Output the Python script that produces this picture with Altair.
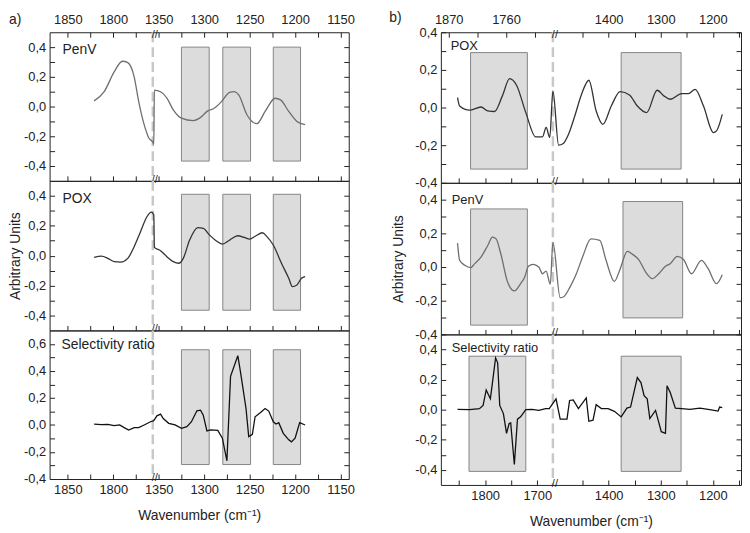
import altair as alt
import pandas as pd

FONT = "Liberation Sans"

# ---------------- panel a) data (wavenumber, value) ----------------
a_penv_wn = [1821, 1810, 1799, 1790, 1784, 1777, 1772, 1766, 1761, 1756, 1755.4,
             1354.8, 1348, 1341, 1334, 1325, 1312, 1305, 1296, 1289, 1281, 1272, 1267,
             1262, 1253, 1242, 1233, 1222, 1216, 1207, 1198, 1189]
a_penv_val = [0.038, 0.10, 0.233, 0.305, 0.296, 0.20, 0.033, -0.122, -0.21, -0.245, -0.255,
              0.111, 0.10, 0.056, -0.022, -0.078, -0.095, -0.078, -0.029, -0.011, 0.033, 0.096, 0.10,
              0.078, -0.055, -0.115, -0.033, 0.056, 0.045, -0.033, -0.10, -0.122]

a_pox_wn = [1821, 1813, 1806, 1799, 1792, 1784, 1777, 1770, 1763, 1758, 1755.4,
            1354.8, 1348, 1341, 1334, 1328, 1323, 1316, 1307, 1301, 1294, 1287, 1280, 1272,
            1263, 1256, 1250, 1243.5, 1236, 1231, 1224, 1215, 1207, 1203, 1198, 1193, 1189]
a_pox_val = [-0.011, -0.003, -0.018, -0.04, -0.043, -0.018, 0.06, 0.16, 0.26, 0.291, 0.271,
             0.055, 0.033, -0.007, -0.04, -0.051, -0.018, 0.104, 0.187, 0.182, 0.137, 0.10, 0.077, 0.104,
             0.133, 0.122, 0.111, 0.131, 0.153, 0.127, 0.071, -0.051, -0.151, -0.207, -0.196, -0.151, -0.14]

a_sr_wn = [1821, 1813, 1806, 1799, 1793, 1788, 1783, 1777, 1772, 1766, 1759, 1756,
           1355, 1352, 1348, 1345, 1339, 1332, 1325, 1319, 1314, 1308, 1304, 1301, 1297, 1293,
           1285, 1280, 1275, 1271, 1263, 1260, 1254, 1251, 1247, 1244, 1238, 1233, 1229, 1224,
           1221, 1218, 1213, 1207, 1204, 1200, 1195, 1189]
a_sr_val = [0.007, 0.002, 0.004, -0.005, 0.0, -0.02, -0.037, -0.02, -0.02, 0.0, 0.024, 0.03,
            0.037, 0.068, 0.08, 0.048, 0.012, 0.0, -0.025, -0.012, 0.024, 0.105, 0.11, 0.073, -0.044, -0.037,
            -0.04, -0.098, -0.265, 0.36, 0.513, 0.39, 0.122, -0.086, -0.069, 0.061, 0.092, 0.122, 0.103, 0.024,
            0.007, 0.017, -0.062, -0.11, -0.125, -0.098, 0.017, 0.0]

# gray boxes of panel a) (wavenumber start/end, value bottom/top per panel)
a_box_start = [1325, 1279.5, 1224]
a_box_end = [1294.5, 1249, 1194]
a1_box_y = [-0.367, 0.40]
a2_box_y = [-0.365, 0.41]
a3_box_y = [-0.293, 0.557]

# ---------------- panel b) data ----------------
b_pox_wn = [1853, 1849, 1830, 1808, 1795, 1782, 1767, 1753, 1740, 1722, 1703, 1690, 1683, 1676, 1670,
            1496, 1487, 1477, 1465, 1452, 1438, 1424, 1411, 1395, 1378, 1360, 1345, 1327, 1307,
            1294, 1282, 1260, 1247, 1234, 1218, 1199, 1193, 1182]
b_pox_val = [0.053, 0.008, -0.014, 0.003, -0.018, -0.021, 0.062, 0.154, 0.12, -0.027, -0.156, -0.156, -0.106, -0.159, 0.088,
             -0.2, -0.191, -0.142, -0.045, 0.071, 0.145, -0.018, -0.089, 0.008, 0.085, 0.067, 0.008, -0.027, 0.092,
             0.062, 0.044, 0.074, 0.074, 0.097, 0.008, -0.133, -0.124, -0.036]

b_penv_wn = [1853, 1849, 1839, 1828, 1820, 1808, 1795, 1786, 1779, 1770, 1757, 1744, 1732, 1724, 1717,
             1708, 1697, 1690, 1683, 1675, 1670,
             1493, 1487, 1474, 1462, 1449, 1434, 1417, 1405, 1389, 1379, 1364, 1354, 1342, 1329,
             1316, 1304, 1291, 1282, 1268, 1256, 1241, 1222, 1209, 1193, 1182]
b_penv_val = [0.142, 0.04, 0.01, -0.004, 0.02, 0.059, 0.128, 0.178, 0.167, 0.079, -0.089, -0.142, -0.099, -0.059, 0.004,
              0.016, 0.0, -0.04, -0.024, -0.102, 0.148,
              -0.182, -0.178, -0.118, -0.04, 0.069, 0.167, 0.158, 0.04, -0.085, -0.02, 0.093, 0.075, 0.043, -0.03,
              -0.069, -0.04, 0.004, 0.02, 0.063, 0.043, -0.04, 0.04, -0.01, -0.099, -0.046]

b_sr_wn = [1853, 1830, 1811, 1804, 1798, 1790, 1786, 1780, 1776, 1772, 1765, 1759, 1754, 1751, 1744,
           1738, 1732, 1722, 1710, 1697, 1684, 1677,
           1501, 1493, 1480, 1475, 1468, 1458, 1443, 1438, 1430, 1424, 1414, 1401, 1389, 1376,
           1365, 1358, 1345, 1338, 1332, 1326, 1321, 1310, 1299, 1291, 1288, 1282, 1272, 1260,
           1244, 1225, 1206, 1190, 1187, 1182]
b_sr_val = [0.002, 0.0, 0.007, 0.028, 0.131, 0.072, 0.18, 0.344, 0.311, 0.028, -0.026, -0.157, -0.092, -0.088, -0.364,
            -0.063, -0.048, 0.0, 0.002, -0.005, 0.007, 0.007,
            0.072, -0.063, -0.063, 0.061, 0.065, 0.007, 0.078, -0.077, -0.07, 0.033, 0.007, 0.007, -0.011, -0.048,
            0.01, 0.017, 0.213, 0.18, 0.093, 0.072, -0.059, -0.005, -0.146, -0.157, 0.159, 0.115, 0.01, 0.007,
            0.002, 0.01, 0.0, -0.009, 0.017, 0.013]

b1_box_start = [1828, 1376]
b1_box_end = [1719, 1261]
b1_box_bot = [-0.327, -0.327]
b1_box_top = [0.292, 0.292]
b2_box_start = [1828, 1372.5]
b2_box_end = [1719, 1258]
b2_box_bot = [-0.345, -0.302]
b2_box_top = [0.345, 0.389]
b3_box_start = [1831, 1376]
b3_box_end = [1722, 1261]
b3_box_bot = [-0.41, -0.41]
b3_box_top = [0.355, 0.355]

# ---------------- axes: ticks and labels (wavenumbers) ----------------
a_ticks_wn = [1850, 1825, 1800, 1775, 1350, 1325, 1300, 1275, 1250, 1225, 1200, 1175, 1150]
a_labels_wn = [1850, 1800, 1350, 1300, 1250, 1200, 1150]
b_bottom_ticks_wn = [1850, 1800, 1750, 1700, 1450, 1400, 1350, 1300, 1250, 1200, 1150]
b_bottom_labels_wn = [1800, 1700, 1400, 1300, 1200]
b_top_ticks_wn = [1870, 1815, 1760, 1705, 1450, 1400, 1350, 1300, 1250, 1200, 1150]
b_top_labels_wn = [1870, 1760, 1400, 1300, 1200]

y_ticks_a12 = [-0.4, -0.3, -0.2, -0.1, 0.0, 0.1, 0.2, 0.3, 0.4]
y_ticks_a3 = [-0.4, -0.3, -0.2, -0.1, 0.0, 0.1, 0.2, 0.3, 0.4, 0.5, 0.6]
y_ticks_b = [-0.4, -0.3, -0.2, -0.1, 0.0, 0.1, 0.2, 0.3, 0.4]

# broken axis: left segment is shifted onto the continuous position scale
A_SHIFT, A_CUT, A_BREAK = 400, 1500, 1356.5
B_SHIFT, B_CUT, B_BREAK = 163, 1600, 1507


def to_pos(wn, shift, cut):
    return [w - shift if w > cut else w for w in wn]


def line_df(wn, val, shift, cut):
    return pd.DataFrame({"pos": to_pos(wn, shift, cut), "val": val, "idx": list(range(len(wn)))})


def box_df(start, end, bot, top, shift, cut):
    return pd.DataFrame({"x1": to_pos(start, shift, cut), "x2": to_pos(end, shift, cut),
                         "y1": bot, "y2": top})


def label_expr(labels_wn, shift, cut):
    parts = []
    for w in labels_wn:
        p = w - shift if w > cut else w
        parts.append(f"datum.value == {p} ? '{w}'")
    return " : ".join(parts) + " : ''"


Y_EXPR = ("abs(round(datum.value * 10)) % 2 == 0 ? "
          "((datum.value < -0.001 ? '-' : '') + replace(format(abs(datum.value), '.1f'), '.', ',')) : ''")

TXT = dict(labelFont=FONT, labelFontSize=13, labelColor="#222", titleFont=FONT, titleFontSize=14,
           titleFontWeight="normal", titleColor="#222")
TICK = dict(domain=False, grid=False, tickSize=5, offset=-5, tickColor="#222", tickWidth=1, **TXT)


def panel(df, boxes, ydom, yticks, h, w, xdom, bvals, bexpr, bottom_labels, tvals, texpr,
          name, name_xy, name_size, color, interp, brk, ytitle, xtitle, ytp, corner=None):
    xs = alt.Scale(domain=xdom, reverse=True, nice=False, zero=False)
    ys = alt.Scale(domain=ydom, nice=False, zero=False)

    bottom_axis = alt.Axis(orient="bottom", values=bvals, labelExpr=bexpr, labels=bottom_labels,
                           labelPadding=5, labelFlush=False, labelOverlap=False,
                           titlePadding=12, **TICK)
    left_axis = alt.Axis(orient="left", values=yticks, labelExpr=Y_EXPR, labelPadding=4,
                         labelFlush=False, labelOverlap=False, titlePadding=ytp, **TICK)
    right_axis = alt.Axis(orient="right", values=yticks, labels=False, **TICK)

    rect = alt.Chart(boxes).mark_rect(fill="#dcdcdc", stroke="#858585", strokeWidth=1).encode(
        x=alt.X("x1:Q", scale=xs, axis=bottom_axis, title=xtitle),
        x2="x2:Q",
        y=alt.Y("y1:Q", scale=ys, axis=left_axis, title=ytitle),
        y2="y2:Q",
    )
    rule = alt.Chart(pd.DataFrame({"pos": [brk]})).mark_rule(
        color="#c8c8c8", strokeWidth=2.5, strokeDash=[10, 5]).encode(
        x=alt.X("pos:Q", scale=xs, axis=None), y=alt.value(0), y2=alt.value(h))

    first = tvals is not None
    if first:
        top_axis = alt.Axis(orient="top", values=tvals, labelExpr=texpr, labelPadding=6,
                            labelFlush=False, labelOverlap=False, **TICK)
    else:
        top_axis = None
    line = alt.Chart(df).mark_line(color=color, strokeWidth=1.3, interpolate=interp).encode(
        x=alt.X("pos:Q", scale=xs, axis=top_axis, title=None),
        y=alt.Y("val:Q", scale=ys, axis=right_axis, title=None),
        order="idx:Q",
    )
    bm_bot = alt.Chart(pd.DataFrame({"pos": [brk], "val": [ydom[0]]})).mark_text(
        text="//", fontSize=11, dx=2, dy=-1, color="#222", font=FONT).encode(
        x=alt.X("pos:Q", scale=xs, axis=None), y=alt.Y("val:Q", scale=ys, axis=None))
    lab = alt.Chart(pd.DataFrame({"t": [name]})).mark_text(
        align="left", baseline="middle", fontSize=name_size, color="#222", font=FONT).encode(
        text="t:N", x=alt.value(name_xy[0]), y=alt.value(name_xy[1]))
    layers = [rect, rule, line, bm_bot, lab]
    if first:
        layers.append(alt.Chart(pd.DataFrame({"pos": [brk], "val": [ydom[1]]})).mark_text(
            text="//", fontSize=11, dx=2, dy=3, color="#222", font=FONT).encode(
            x=alt.X("pos:Q", scale=xs, axis=None), y=alt.Y("val:Q", scale=ys, axis=None)))
    if corner is not None:
        layers.append(alt.Chart(pd.DataFrame({"t": [corner[0]]})).mark_text(
            align="left", baseline="middle", fontSize=14, color="#222", font=FONT).encode(
            text="t:N", x=alt.value(corner[1]), y=alt.value(corner[2])))
    return alt.layer(*layers).resolve_axis(x="independent", y="independent").properties(
        width=w, height=h)


WA, WB = 302, 303
GAP = 93
a_xdom = [1141, 1470]
b_xdom = [1146, 1722]

a_bt = to_pos(a_ticks_wn, A_SHIFT, A_CUT)
a_expr = label_expr(a_labels_wn, A_SHIFT, A_CUT)
b_bt = to_pos(b_bottom_ticks_wn, B_SHIFT, B_CUT)
b_bexpr = label_expr(b_bottom_labels_wn, B_SHIFT, B_CUT)
b_tt = to_pos(b_top_ticks_wn, B_SHIFT, B_CUT)
b_texpr = label_expr(b_top_labels_wn, B_SHIFT, B_CUT)

XT = "Wavenumber (cm\u207b\u00b9)"

a1 = panel(line_df(a_penv_wn, a_penv_val, A_SHIFT, A_CUT),
           box_df(a_box_start, a_box_end, [a1_box_y[0]] * 3, [a1_box_y[1]] * 3, A_SHIFT, A_CUT),
           [-0.5, 0.5], y_ticks_a12, 150, WA, a_xdom, a_bt, a_expr, False, a_bt, a_expr,
           "PenV", (13, 18), 14, "#6e6e6e", "monotone", A_BREAK, None, None, 1,
           corner=("a)", -41, -12))
a2 = panel(line_df(a_pox_wn, a_pox_val, A_SHIFT, A_CUT),
           box_df(a_box_start, a_box_end, [a2_box_y[0]] * 3, [a2_box_y[1]] * 3, A_SHIFT, A_CUT),
           [-0.5, 0.5], y_ticks_a12, 151, WA, a_xdom, a_bt, a_expr, False, None, None,
           "POX", (13, 18), 14, "#333333", "monotone", A_BREAK, "Arbitrary Units", None, 1)
a3 = panel(line_df(a_sr_wn, a_sr_val, A_SHIFT, A_CUT),
           box_df(a_box_start, a_box_end, [a3_box_y[0]] * 3, [a3_box_y[1]] * 3, A_SHIFT, A_CUT),
           [-0.4, 0.7], y_ticks_a3, 150, WA, a_xdom, a_bt, a_expr, True, None, None,
           "Selectivity ratio", (12, 15), 14, "#111111", "linear", A_BREAK, None, XT, 1)

b1 = panel(line_df(b_pox_wn, b_pox_val, B_SHIFT, B_CUT),
           box_df(b1_box_start, b1_box_end, b1_box_bot, b1_box_top, B_SHIFT, B_CUT),
           [-0.4, 0.4], y_ticks_b, 152, WB, b_xdom, b_bt, b_bexpr, False, b_tt, b_texpr,
           "POX", (10, 14), 13, "#333333", "monotone", B_BREAK, None, None, 9,
           corner=("b)", -52, -14))
b2 = panel(line_df(b_penv_wn, b_penv_val, B_SHIFT, B_CUT),
           box_df(b2_box_start, b2_box_end, b2_box_bot, b2_box_top, B_SHIFT, B_CUT),
           [-0.4, 0.5], y_ticks_b, 153, WB, b_xdom, b_bt, b_bexpr, False, None, None,
           "PenV", (11, 17), 13, "#6e6e6e", "monotone", B_BREAK, "Arbitrary Units", None, 9)
b3 = panel(line_df(b_sr_wn, b_sr_val, B_SHIFT, B_CUT),
           box_df(b3_box_start, b3_box_end, b3_box_bot, b3_box_top, B_SHIFT, B_CUT),
           [-0.5, 0.5], y_ticks_b, 152, WB, b_xdom, b_bt, b_bexpr, True, None, None,
           "Selectivity ratio", (11, 14), 13, "#111111", "linear", B_BREAK, None, XT, 9)

left = alt.vconcat(a1, a2, a3, spacing=0, bounds="flush")
right = alt.vconcat(b1, b2, b3, spacing=0, bounds="flush")

chart = alt.hconcat(left, right, spacing=WA + GAP, bounds="flush", padding=0,
                    background="white").configure_view(
    stroke="#222", strokeWidth=1
).configure_axis(**TXT)

chart.save("out.html", embed_options={"renderer": "svg", "actions": False})
